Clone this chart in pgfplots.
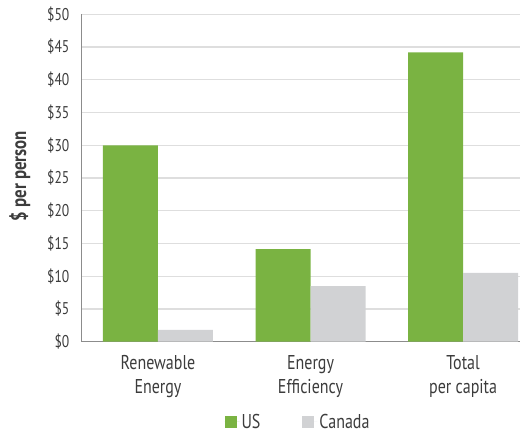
\documentclass[border=0pt]{standalone}
\usepackage{pgfplots}
\pgfplotsset{compat=1.18}
\usepackage{fontspec}
\setmainfont{PT Sans}[FakeStretch=0.8]
\definecolor{usgreen}{RGB}{122,179,66}
\definecolor{cagray}{RGB}{209,210,212}
\definecolor{gridgray}{RGB}{222,222,222}
\definecolor{axgray}{RGB}{140,140,140}
\definecolor{txt}{RGB}{60,60,60}
\begin{document}
\begin{tikzpicture}
\useasboundingbox (0,0) rectangle (527pt,433pt);
\begin{axis}[
  at={(81.7pt,91.3pt)}, anchor=south west,
  scale only axis, width=438.3pt, height=327.4pt,
  ybar=0pt, bar width=55pt,
  xmin=-0.5, xmax=2.373,
  ymin=0, ymax=50,
  ytick={0,5,...,50},
  yticklabels={\$0,\$5,\$10,\$15,\$20,\$25,\$30,\$35,\$40,\$45,\$50},
  xtick={0,1,2},
  xticklabels={{Renewable\\Energy},{Energy\\Efficiency},{Total\\per capita}},
  ymajorgrids, grid style={gridgray, line width=1.3pt},
  axis x line=bottom, axis y line=left,
  axis line style={-, draw=axgray, line width=1.3pt},
  xtick style={draw=none}, ytick style={draw=none},
  yticklabel style={anchor=east, inner sep=0pt, xshift=-10pt, font=\fontsize{17}{20}\selectfont, text=txt},
  xticklabel style={anchor=north, align=center, inner sep=0pt, yshift=-11pt, font=\fontsize{20}{24}\selectfont, text=txt},
  ylabel={\$ per person},
  ylabel style={at={(axis description cs:-0.141,0.506)}, anchor=center, font=\bfseries\fontsize{21}{24}\selectfont, text=txt},
  legend columns=2,
  legend style={at={(axis description cs:0.4935,-0.245)}, anchor=center, draw=none, fill=none,
    font=\fontsize{20}{24}\selectfont, text=txt,
    /tikz/every even column/.append style={column sep=40pt}},
  legend image code/.code={\path (0pt,0pt) -- (15pt,0pt); \fill[#1] (0pt,-6pt) rectangle (12pt,6pt);},
  clip=false,
]
\addplot[fill=usgreen, draw=none] coordinates {(0,30.0) (1,14.15) (2,44.2)};
\addplot[fill=cagray, draw=none] coordinates {(0,1.8) (1,8.5) (2,10.5)};
\legend{US, Canada}
\end{axis}
\end{tikzpicture}
\end{document}
